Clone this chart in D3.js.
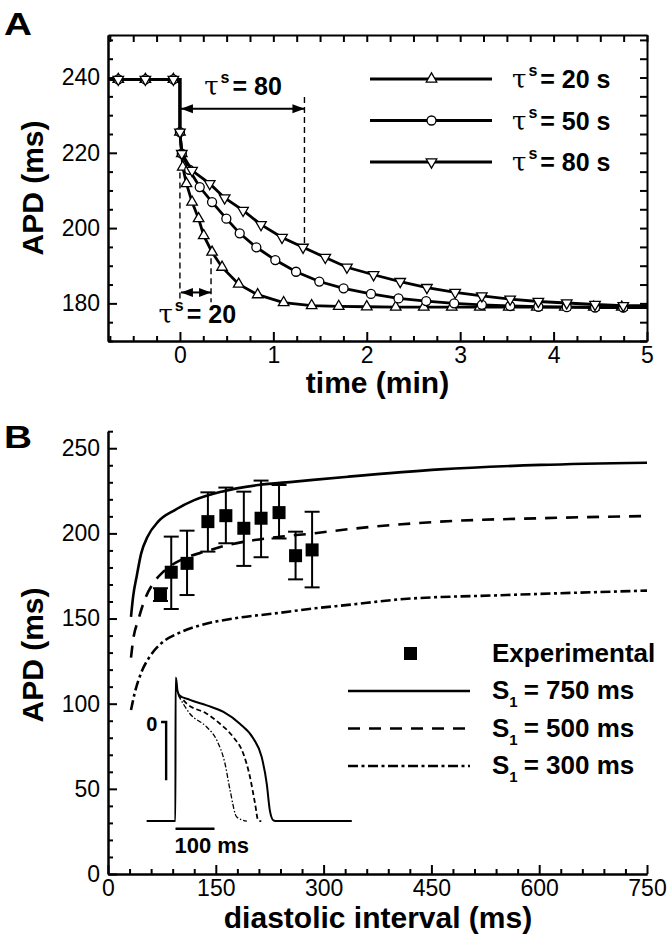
<!DOCTYPE html>
<html>
<head>
<meta charset="utf-8">
<script src="https://cdnjs.cloudflare.com/ajax/libs/d3/7.8.5/d3.min.js"></script>
<style>
body { margin: 0; background: #fff; }
svg { display: block; font-family: "Liberation Sans", Arial, sans-serif; }
</style>
</head>
<body>
<svg id="fig"></svg>
<script>
// ---- panel A : APD after the pacing step, marker positions
var preT = [-0.66, -0.37, -0.07];
var preAPD = 239.5;

var t20 = [0, 0.02, 0.03, 0.07, 0.13, 0.2, 0.255, 0.344, 0.451, 0.629, 0.832, 1.11, 1.41, 1.7, 2.0, 2.31, 2.61, 2.91, 3.21, 3.52, 3.82, 4.12, 4.43, 4.73];
var apd20 = [225.5, 219.8, 216.2, 211.8, 206.9, 202.5, 198.0, 193.6, 189.6, 185.1, 182.3, 180.2, 179.4, 179.2, 179.1, 179.0, 179.0, 179.0, 179.0, 179.0, 179.0, 179.0, 179.0, 179.0];

var t50 = [0, 0.02, 0.1, 0.212, 0.344, 0.497, 0.64, 0.818, 1.021, 1.243, 1.492, 1.752, 2.045, 2.34, 2.636, 2.936, 3.232, 3.535, 3.837, 4.141, 4.444, 4.746];
var apd50 = [225.5, 219.8, 215.5, 210.9, 206.9, 202.5, 198.6, 194.9, 191.5, 188.4, 185.8, 184.0, 182.5, 181.3, 180.6, 180.0, 179.6, 179.3, 179.1, 179.0, 178.9, 178.9];

var t80 = [0, 0.02, 0.13, 0.319, 0.479, 0.676, 0.868, 1.093, 1.318, 1.556, 1.788, 2.073, 2.358, 2.644, 2.947, 3.232, 3.535, 3.837, 4.141, 4.444, 4.746];
var apd80 = [225.5, 219.8, 215.3, 211.8, 208.0, 204.7, 200.9, 197.5, 194.9, 192.2, 189.6, 187.6, 185.8, 184.2, 182.9, 182.0, 181.1, 180.5, 180.1, 179.7, 179.4];

var legendA = ["20 s", "50 s", "80 s"];
var timeTicks = [0, 1, 2, 3, 4, 5];
var apdTicksA = [180, 200, 220, 240];

// ---- panel B : restitution curves and experiment
var diExp = [73, 88, 110, 139, 164, 189, 213, 238, 261, 284];
var apdExp = [164, 177.2, 182.4, 206.9, 210.4, 203, 208.9, 212.2, 186.9, 190.3];
var apdHi = [167.8, 198.1, 201.6, 224.1, 226.9, 224.5, 231, 228.4, 201, 212.7];
var apdLo = [160.3, 155.6, 163.8, 189.3, 194.2, 180.9, 186, 197, 173, 168.3];

var di750 = [32, 35, 40, 46, 55, 70, 93, 120, 158, 209, 260, 334, 462, 602, 750];
var apd750 = [151, 163, 175, 188, 198, 207, 213.7, 219.5, 224.5, 228.4, 230.4, 233.3, 237.6, 240.2, 241.5];
var di500 = [32, 35, 42, 51, 63, 77, 93, 110, 135, 167, 204, 241, 288, 325, 462, 602, 750];
var apd500 = [127, 137.5, 149, 161, 170.7, 177.5, 182.5, 186, 189.3, 193.2, 196.1, 198.1, 200.1, 202, 206.9, 208.9, 210.2];
var di300 = [32, 37, 46, 58, 74, 97.5, 130, 176, 232, 288, 334, 407, 555, 750];
var apd300 = [96.3, 106, 118, 127.6, 135.4, 141.3, 146.2, 150.1, 153, 156, 158, 161.3, 163.8, 166.4];

var legendB = ["750 ms", "500 ms", "300 ms"];
var diTicks = [0, 150, 300, 450, 600, 750];
var apdTicksB = [0, 50, 100, 150, 200, 250];

// inset action potentials (ms, mV)
var apT750 = [-74, -0.3, 0.3, 1.2, 5, 9.7, 37, 80, 123, 165, 200, 221, 234, 242, 251, 260, 452];
var apV750 = [-85, -85, 38, 38, 27, 23, 19, 14.3, 8.6, -1.5, -14.3, -30, -53, -76, -84.3, -85, -85];
var apT500 = [7, 29, 80, 114, 148, 174, 191, 204, 212, 220];
var apV500 = [24, 15.7, 7.1, -1.5, -12.9, -27.2, -47.2, -70, -84.3, -85];
var apT300 = [7, 37, 80, 106, 127, 140, 157, 183];
var apV300 = [23, 7.1, -4.3, -15.7, -35.8, -58.6, -81.5, -85];

var svg = d3.select("#fig").attr("width", 672).attr("height", 948);

var defs = svg.append("defs");
defs.append("marker")
    .attr("id", "arr")
    .attr("viewBox", "0 0 10 10")
    .attr("refX", 10).attr("refY", 5)
    .attr("markerWidth", 12).attr("markerHeight", 12)
    .attr("markerUnits", "userSpaceOnUse")
    .attr("orient", "auto-start-reverse")
    .append("path").attr("d", "M0,1.2L10,5L0,8.8Z").attr("fill", "#000");

var styleAxis = function(g)
{
    g.attr("font-family", null).attr("font-size", 23);
    g.select(".domain").attr("stroke-width", 2);
    g.selectAll(".tick line").attr("stroke-width", 2);
    g.selectAll(".tick text").attr("fill", "#000");
}

var minorOf = function(lo, hi, step, majors)
{
    return d3.range(lo, hi + step / 2, step).filter(function(v) {
        return majors.indexOf(Math.round(v * 1000) / 1000) < 0;
    });
}

var panelLabel = function(txt, x, y)
{
    svg.append("text")
        .attr("transform", "translate(" + x + "," + y + ") scale(1.25,1)")
        .attr("font-size", 31).attr("font-weight", "bold")
        .text(txt);
}

var marker = function(g, shape, x, y)
{
    if (shape == "circle")
    {
        g.append("circle").attr("cx", x).attr("cy", y).attr("r", 4.5)
            .attr("fill", "#fff").attr("stroke", "#000").attr("stroke-width", 1.3);
    }
    else
    {
        g.append("path")
            .attr("d", d3.symbol(d3.symbolTriangle, 48)())
            .attr("transform", "translate(" + x + "," + y + ")" + (shape == "down" ? " rotate(180)" : ""))
            .attr("fill", "#fff").attr("stroke", "#000").attr("stroke-width", 1.3);
    }
}

// tau^s label : serif tau, bold superscript s, bold rest
var tauText = function(g, x, y, rest)
{
    var t = g.append("text").attr("x", x).attr("y", y);
    t.append("tspan").attr("font-family", "DejaVu Serif").attr("font-size", 26).text("τ");
    t.append("tspan").attr("font-weight", "bold").attr("font-size", 16).attr("dx", 2).attr("dy", -12).text("s");
    t.append("tspan").attr("font-weight", "bold").attr("font-size", 25).attr("dx", 3).attr("dy", 12).text("= " + rest);
}

// ================= PANEL A =================
var xA = d3.scaleLinear().domain([-0.77, 5]).range([108, 647]);
var yA = d3.scaleLinear().domain([170, 251.3]).range([341, 35]);

var gA = svg.append("g");
var minorT = minorOf(-0.75, 5, 0.25, timeTicks);
var minorA = minorOf(170, 250, 5, apdTicksA);
var intFmt = d3.format("d");

gA.append("g").attr("transform", "translate(0,341)")
    .call(d3.axisBottom(xA).tickValues(timeTicks).tickFormat(intFmt).tickSize(-9).tickSizeOuter(0).tickPadding(6))
    .call(styleAxis);
gA.append("g").attr("transform", "translate(0,341)")
    .call(d3.axisBottom(xA).tickValues(minorT).tickFormat("").tickSize(-5).tickSizeOuter(0))
    .call(styleAxis);
gA.append("g").attr("transform", "translate(0,35)")
    .call(d3.axisTop(xA).tickValues(timeTicks.concat(minorT)).tickFormat("").tickSize(-7).tickSizeOuter(0))
    .call(styleAxis);
gA.append("g").attr("transform", "translate(108,0)")
    .call(d3.axisLeft(yA).tickValues(apdTicksA).tickFormat(intFmt).tickSize(-9).tickSizeOuter(0).tickPadding(8))
    .call(styleAxis);
gA.append("g").attr("transform", "translate(108,0)")
    .call(d3.axisLeft(yA).tickValues(minorA).tickFormat("").tickSize(-5).tickSizeOuter(0))
    .call(styleAxis);
gA.append("g").attr("transform", "translate(647,0)")
    .call(d3.axisRight(yA).tickValues(apdTicksA.concat(minorA)).tickFormat("").tickSize(-7).tickSizeOuter(0))
    .call(styleAxis);

gA.append("text").attr("x", 377.5).attr("y", 393)
    .attr("text-anchor", "middle").attr("font-size", 30).attr("font-weight", "bold")
    .text("time (min)");
gA.append("text").attr("transform", "translate(43,188) rotate(-90)")
    .attr("text-anchor", "middle").attr("font-size", 30).attr("font-weight", "bold")
    .text("APD (ms)");

var lineA = d3.line().x(function(d) { return xA(d[0]); }).y(function(d) { return yA(d[1]); });

var seriesA = [
    {t: t20, apd: apd20, shape: "up"},
    {t: t50, apd: apd50, shape: "circle"},
    {t: t80, apd: apd80, shape: "down"}
];

seriesA.forEach(function(s)
{
    var marks = preT.map(function(t) { return [t, preAPD]; })
        .concat(s.t.map(function(t, i) { return [t, s.apd[i]]; }));
    var pts = [[xA.domain()[0], preAPD]]
        .concat(marks.slice(0, preT.length), [[0, preAPD]], marks.slice(preT.length),
                [[xA.domain()[1], s.apd[s.apd.length - 1]]]);
    gA.append("path").datum(pts).attr("d", lineA)
        .attr("fill", "none").attr("stroke", "#000").attr("stroke-width", 2.8);
    var mg = gA.append("g");
    marks.forEach(function(d) { marker(mg, s.shape, xA(d[0]), yA(d[1])); });
});

// time-constant annotations
var dashA = function(t, v0, v1)
{
    gA.append("line").attr("x1", xA(t)).attr("x2", xA(t)).attr("y1", yA(v0)).attr("y2", yA(v1))
        .attr("stroke", "#000").attr("stroke-width", 1.4).attr("stroke-dasharray", "6,4");
}
var arrowA = function(t0, t1, v)
{
    gA.append("line").attr("x1", xA(t0) + 1).attr("x2", xA(t1)).attr("y1", yA(v)).attr("y2", yA(v))
        .attr("stroke", "#000").attr("stroke-width", 2)
        .attr("marker-start", "url(#arr)").attr("marker-end", "url(#arr)");
}
dashA(1.333, 234.8, 195.3);
arrowA(0, 1.333, 231.7);
tauText(gA, xA(0.26), yA(235.3), "80");

dashA(0, 214.8, 180.3);
dashA(0.333, 192, 180.3);
arrowA(0, 0.333, 182.9);
tauText(gA, xA(-0.23), yA(174.9), "20");

// legend A
var legA = gA.append("g");
legendA.forEach(function(lab, i)
{
    var y = 79 + i * 41.5;
    legA.append("line").attr("x1", 370).attr("x2", 492).attr("y1", y).attr("y2", y)
        .attr("stroke", "#000").attr("stroke-width", 2.8);
    marker(legA, seriesA[i].shape, 431.5, y);
    tauText(legA, 512, y + 9, lab);
});

panelLabel("A", 4, 35);

// ================= PANEL B =================
var xB = d3.scaleLinear().domain([0, 750]).range([108, 647]);
var yB = d3.scaleLinear().domain([0, 260]).range([874, 431.2]);

var gB = svg.append("g");
gB.append("g").attr("transform", "translate(0,874)")
    .call(d3.axisBottom(xB).tickValues(diTicks).tickFormat(intFmt).tickSize(-9).tickSizeOuter(0).tickPadding(6))
    .call(styleAxis);
gB.append("g").attr("transform", "translate(0,874)")
    .call(d3.axisBottom(xB).tickValues(minorOf(0, 750, 30, diTicks)).tickFormat("").tickSize(-5).tickSizeOuter(0))
    .call(styleAxis);
gB.append("g").attr("transform", "translate(108,0)")
    .call(d3.axisLeft(yB).tickValues(apdTicksB).tickFormat(intFmt).tickSize(-9).tickSizeOuter(0).tickPadding(8))
    .call(styleAxis);
gB.append("g").attr("transform", "translate(108,0)")
    .call(d3.axisLeft(yB).tickValues(minorOf(0, 260, 10, apdTicksB)).tickFormat("").tickSize(-5).tickSizeOuter(0))
    .call(styleAxis);

gB.append("text").attr("x", 378).attr("y", 928)
    .attr("text-anchor", "middle").attr("font-size", 30).attr("font-weight", "bold")
    .text("diastolic interval (ms)");
gB.append("text").attr("transform", "translate(43,655) rotate(-90)")
    .attr("text-anchor", "middle").attr("font-size", 30).attr("font-weight", "bold")
    .text("APD (ms)");

var lineB = d3.line().curve(d3.curveMonotoneX)
    .x(function(d) { return xB(d[0]); }).y(function(d) { return yB(d[1]); });
var dashes = ["none", "12,9", "10,3.5,3,3.5"];
var curvesB = [[di750, apd750], [di500, apd500], [di300, apd300]];

curvesB.forEach(function(c, i)
{
    gB.append("path").datum(c[0].map(function(d, k) { return [d, c[1][k]]; }))
        .attr("d", lineB).attr("fill", "none").attr("stroke", "#000")
        .attr("stroke-width", 2.6).attr("stroke-dasharray", dashes[i]);
});

// experimental points with error bars
var expG = gB.append("g");
diExp.forEach(function(d, i)
{
    var x = xB(d);
    expG.append("line").attr("x1", x).attr("x2", x).attr("y1", yB(apdLo[i])).attr("y2", yB(apdHi[i]))
        .attr("stroke", "#000").attr("stroke-width", 2);
    [apdLo[i], apdHi[i]].forEach(function(v)
    {
        expG.append("line").attr("x1", x - 7.5).attr("x2", x + 7.5).attr("y1", yB(v)).attr("y2", yB(v))
            .attr("stroke", "#000").attr("stroke-width", 2);
    });
    expG.append("rect").attr("x", x - 6.5).attr("y", yB(apdExp[i]) - 6.5)
        .attr("width", 13).attr("height", 13).attr("fill", "#000");
});

// legend B
var legB = gB.append("g").attr("font-weight", "bold");
legB.append("rect").attr("x", 404).attr("y", 647).attr("width", 13).attr("height", 13).attr("fill", "#000");
legB.append("text").attr("x", 492).attr("y", 662).attr("font-size", 26).text("Experimental");
legendB.forEach(function(lab, i)
{
    var y = 691 + i * 37.5;
    legB.append("line").attr("x1", 348).attr("x2", 470).attr("y1", y).attr("y2", y)
        .attr("stroke", "#000").attr("stroke-width", 2.6).attr("stroke-dasharray", dashes[i]);
    var t = legB.append("text").attr("x", 492).attr("y", y + 8).attr("font-size", 26);
    t.append("tspan").text("S");
    t.append("tspan").attr("font-size", 15).attr("dy", 8).text("1");
    t.append("tspan").attr("dx", 6).attr("dy", -8).text("= " + lab);
});

// inset: action potentials
var ix = d3.scaleLinear().domain([0, 100]).range([175.5, 214.5]);
var iv = d3.scaleLinear().domain([0, -50]).range([722, 780.3]);
var apLine = d3.line().curve(d3.curveMonotoneX)
    .x(function(d) { return ix(d[0]); }).y(function(d) { return iv(d[1]); });
var aps = [[apT750, apV750, 2, "none"], [apT500, apV500, 1.8, "5,3"], [apT300, apV300, 1.3, "5,2,1.5,2"]];
var gI = gB.append("g");
aps.forEach(function(a)
{
    gI.append("path").datum(a[0].map(function(t, k) { return [t, a[1][k]]; }))
        .attr("d", apLine).attr("fill", "none").attr("stroke", "#000")
        .attr("stroke-width", a[2]).attr("stroke-dasharray", a[3]);
});
// scale bars: 50 mV and 100 ms
gI.append("path").attr("d", "M" + ix(-37) + "," + iv(0) + "H" + ix(-24) + "V" + iv(-50))
    .attr("fill", "none").attr("stroke", "#000").attr("stroke-width", 2.4);
gI.append("text").attr("x", ix(-75)).attr("y", iv(0) + 9).attr("font-size", 20).attr("font-weight", "bold").text("0");
gI.append("line").attr("x1", ix(0)).attr("x2", ix(100)).attr("y1", iv(-91.5)).attr("y2", iv(-91.5))
    .attr("stroke", "#000").attr("stroke-width", 2.4);
gI.append("text").attr("x", ix(93)).attr("y", 853).attr("text-anchor", "middle")
    .attr("font-size", 22).attr("font-weight", "bold").text("100 ms");

panelLabel("B", 4, 448);
</script>
</body>
</html>
